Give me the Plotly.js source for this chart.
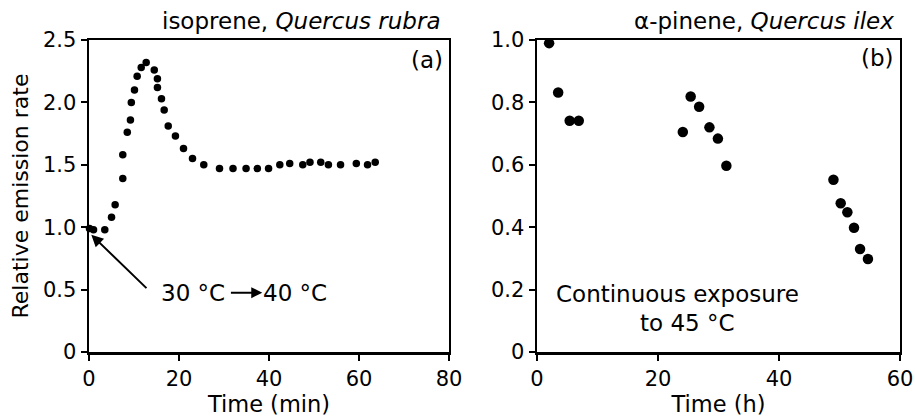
<!DOCTYPE html>
<html>
<head>
<meta charset="utf-8">
<script src="https://cdn.plot.ly/plotly-3.0.1.min.js"></script>
<style>html,body{margin:0;padding:0;background:#fff;}#chart{width:915px;height:419px;}</style>
</head>
<body>
<div id="chart"></div>
<script>
// Panel (a): isoprene, Quercus rubra — time in minutes
var isopreneTime = [0.1, 1.0, 3.5, 5.0, 5.8, 7.5, 7.5, 8.5, 9.2, 9.4, 10.1, 10.7, 11.6, 12.7, 14.5, 15.2, 15.2, 16.1, 16.7, 17.6, 19.2, 21.0, 23.0, 25.5, 29.0, 32.0, 34.9, 37.4, 39.9, 42.4, 44.6, 47.5, 49.1, 51.5, 53.2, 55.9, 59.4, 61.9, 63.6];
var isopreneRate = [0.99, 0.98, 0.98, 1.08, 1.18, 1.39, 1.58, 1.76, 1.86, 2.00, 2.10, 2.21, 2.28, 2.32, 2.26, 2.19, 2.12, 2.03, 1.94, 1.81, 1.73, 1.63, 1.55, 1.50, 1.47, 1.47, 1.47, 1.47, 1.47, 1.50, 1.51, 1.50, 1.52, 1.52, 1.50, 1.50, 1.51, 1.50, 1.52];

// Panel (b): alpha-pinene, Quercus ilex — time in hours
var pineneTime = [2.0, 3.5, 5.4, 6.9, 24.1, 25.4, 26.8, 28.5, 29.9, 31.3, 49.0, 50.2, 51.3, 52.4, 53.4, 54.7];
var pineneRate = [0.99, 0.832, 0.741, 0.741, 0.705, 0.819, 0.786, 0.720, 0.684, 0.597, 0.552, 0.477, 0.448, 0.398, 0.330, 0.298];

// Tick labels
var aYTickVals = [0, 0.5, 1.0, 1.5, 2.0, 2.5];
var aYTickText = ["0", "0.5", "1.0", "1.5", "2.0", "2.5"];
var aXTickVals = [0, 20, 40, 60, 80];
var bYTickVals = [0, 0.2, 0.4, 0.6, 0.8, 1.0];
var bYTickText = ["0", "0.2", "0.4", "0.6", "0.8", "1.0"];
var bXTickVals = [0, 20, 40, 60];

var FONT = "DejaVu Sans, Arial, sans-serif";
var TXT = {family: FONT, size: 23, color: "#000"};

var traces = [
  {x: isopreneTime, y: isopreneRate, xaxis: "x", yaxis: "y", type: "scatter", mode: "markers",
   marker: {color: "#000", size: 7.5}, cliponaxis: false, hoverinfo: "x+y"},
  {x: pineneTime, y: pineneRate, xaxis: "x2", yaxis: "y2", type: "scatter", mode: "markers",
   marker: {color: "#000", size: 10.5}, cliponaxis: false, hoverinfo: "x+y"}
];

var axisCommon = {
  showgrid: false, zeroline: false, showline: true, linecolor: "#000", linewidth: 2.5,
  mirror: true, ticks: "outside", ticklen: 6, tickwidth: 2, tickcolor: "#000",
  layer: "below traces",
  tickfont: {family: FONT, size: 21, color: "#000"}, fixedrange: true
};
function ax(extra) { return Object.assign({}, axisCommon, extra); }

var layout = {
  width: 915, height: 419,
  margin: {l: 0, r: 0, t: 0, b: 0},
  paper_bgcolor: "#fff", plot_bgcolor: "#fff",
  showlegend: false,
  font: {family: FONT, color: "#000"},
  xaxis: ax({domain: [0.0973, 0.4907], range: [0, 80], tickmode: "array", tickvals: aXTickVals, anchor: "y",
             title: {text: "Time (min)", font: {family: FONT, size: 22.5, color: "#000"}, standoff: 6}}),
  yaxis: ax({domain: [0.1599, 0.9045], range: [0, 2.5], tickmode: "array", tickvals: aYTickVals, ticktext: aYTickText, anchor: "x",
             title: {text: "Relative emission rate", font: {family: FONT, size: 22, color: "#000"}, standoff: 8}}),
  xaxis2: ax({domain: [0.5869, 0.9836], range: [0, 60], tickmode: "array", tickvals: bXTickVals, anchor: "y2",
             title: {text: "Time (h)", font: {family: FONT, size: 22.5, color: "#000"}, standoff: 6}}),
  yaxis2: ax({domain: [0.1599, 0.9045], range: [0, 1.0], tickmode: "array", tickvals: bYTickVals, ticktext: bYTickText, anchor: "x2"}),
  annotations: [
    {xref: "paper", yref: "paper", x: 443/915, y: 1 - 21/419, xanchor: "right", yanchor: "middle", showarrow: false,
     text: "isoprene, <i>Quercus rubra</i>", font: TXT},
    {xref: "paper", yref: "paper", x: 896/915, y: 1 - 21/419, xanchor: "right", yanchor: "middle", showarrow: false,
     text: "α-pinene, <i>Quercus ilex</i>", font: TXT},
    {xref: "paper", yref: "paper", x: 445/915, y: 1 - 60/419, xanchor: "right", yanchor: "middle", showarrow: false,
     text: "(a)", font: TXT},
    {xref: "paper", yref: "paper", x: 896/915, y: 1 - 58/419, xanchor: "right", yanchor: "middle", showarrow: false,
     text: "(b)", font: TXT},
    // arrow to the temperature step
    {xref: "x", yref: "y", axref: "x", ayref: "y", x: 0.5, y: 0.94, ax: 13.1, ay: 0.50, text: "",
     showarrow: true, arrowhead: 2, arrowsize: 1.2, arrowwidth: 2, arrowcolor: "#000"},
    {xref: "x", yref: "y", x: 30.6, y: 0.47, xanchor: "right", yanchor: "middle", showarrow: false,
     text: "30 °C", font: TXT},
    {xref: "x", yref: "y", axref: "x", ayref: "y", x: 38.5, y: 0.475, ax: 31.2, ay: 0.475, text: "",
     showarrow: true, arrowhead: 2, arrowsize: 1.1, arrowwidth: 2, arrowcolor: "#000"},
    {xref: "x", yref: "y", x: 38.2, y: 0.47, xanchor: "left", yanchor: "middle", showarrow: false,
     text: "40 °C", font: TXT},
    {xref: "x2", yref: "y2", x: 23.3, y: 0.186, xanchor: "center", yanchor: "middle", showarrow: false,
     text: "Continuous exposure", font: TXT},
    {xref: "x2", yref: "y2", x: 24.9, y: 0.093, xanchor: "center", yanchor: "middle", showarrow: false,
     text: "to 45 °C", font: TXT}
  ]
};

Plotly.newPlot("chart", traces, layout, {displayModeBar: false, staticPlot: true});
</script>
</body>
</html>
